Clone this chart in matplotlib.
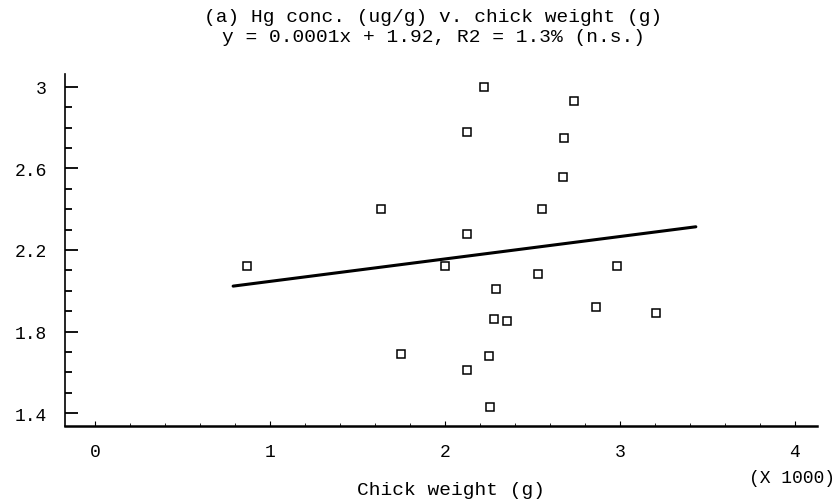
import matplotlib
matplotlib.use("Agg")
import matplotlib.pyplot as plt
from matplotlib.ticker import MultipleLocator, FixedLocator, FuncFormatter

# datos (peso del pollo en g, Hg en ug/g)
peso = [869, 1634, 1749, 2000, 2126, 2126, 2126, 2223, 2251, 2257, 2280,
        2291, 2354, 2531, 2554, 2674, 2680, 2737, 2863, 2983, 3206]
hg = [2.12, 2.40, 1.69, 2.12, 2.28, 2.78, 1.61, 3.00, 1.68, 1.43, 1.86,
      2.01, 1.85, 2.08, 2.40, 2.56, 2.75, 2.93, 1.92, 2.12, 1.89]

# recta de regresion dibujada
pendiente = 0.00011
intercepto = 1.936
recta_x = [790, 3435]
recta_y = [intercepto + pendiente * v for v in recta_x]

ticks_y = [1.4, 1.8, 2.2, 2.6, 3.0]
ticks_x = [0, 1000, 2000, 3000, 4000]

titulo1 = "(a) Hg conc. (ug/g) v. chick weight (g)"
titulo2 = "y = 0.0001x + 1.92, R2 = 1.3% (n.s.)"

plt.rcParams['font.family'] = ['Liberation Mono', 'DejaVu Sans Mono']

fig = plt.figure(figsize=(8.38, 5.02), dpi=100)
ax = fig.add_axes([0.0776, 0.149, 0.897, 0.702])

ax.plot(recta_x, recta_y, color='black', lw=2.2, solid_capstyle='round')
ax.plot(peso, hg, ls='none', marker='s', ms=5.5, mfc='white', mec='black', mew=1.1)

ax.set_xlim(-171, 4126)
ax.set_ylim(1.336, 3.064)

ax.xaxis.set_major_locator(FixedLocator(ticks_x))
ax.xaxis.set_minor_locator(MultipleLocator(200))
ax.yaxis.set_major_locator(FixedLocator(ticks_y))
ax.yaxis.set_minor_locator(MultipleLocator(0.1))
ax.xaxis.set_major_formatter(FuncFormatter(lambda v, p: f"{v/1000:g}"))
ax.yaxis.set_major_formatter(FuncFormatter(lambda v, p: f"{v:g}"))

ax.spines['top'].set_visible(False)
ax.spines['right'].set_visible(False)
ax.spines['left'].set_linewidth(1.2)
ax.spines['bottom'].set_linewidth(1.8)

ax.tick_params(axis='y', which='major', direction='in', length=9.5, width=1.3,
               pad=13, labelsize=13)
ax.tick_params(axis='y', which='minor', direction='in', length=5, width=1.3)
ax.tick_params(axis='x', which='major', direction='in', length=3.5, width=0.8,
               pad=12, labelsize=13)
ax.tick_params(axis='x', which='minor', direction='in', length=2, width=0.6)

fig.text(433/838, 1 - 18/502, titulo1, ha='center', va='center', fontsize=14)
fig.text(433/838, 1 - 37/502, titulo2, ha='center', va='center', fontsize=14)
fig.text(451/838, 1 - 491/502, "Chick weight (g)", ha='center', va='center', fontsize=14)
fig.text(835/838, 1 - 479/502, "(X 1000)", ha='right', va='center', fontsize=13)

fig.savefig("out.png", dpi=100, facecolor='white')
